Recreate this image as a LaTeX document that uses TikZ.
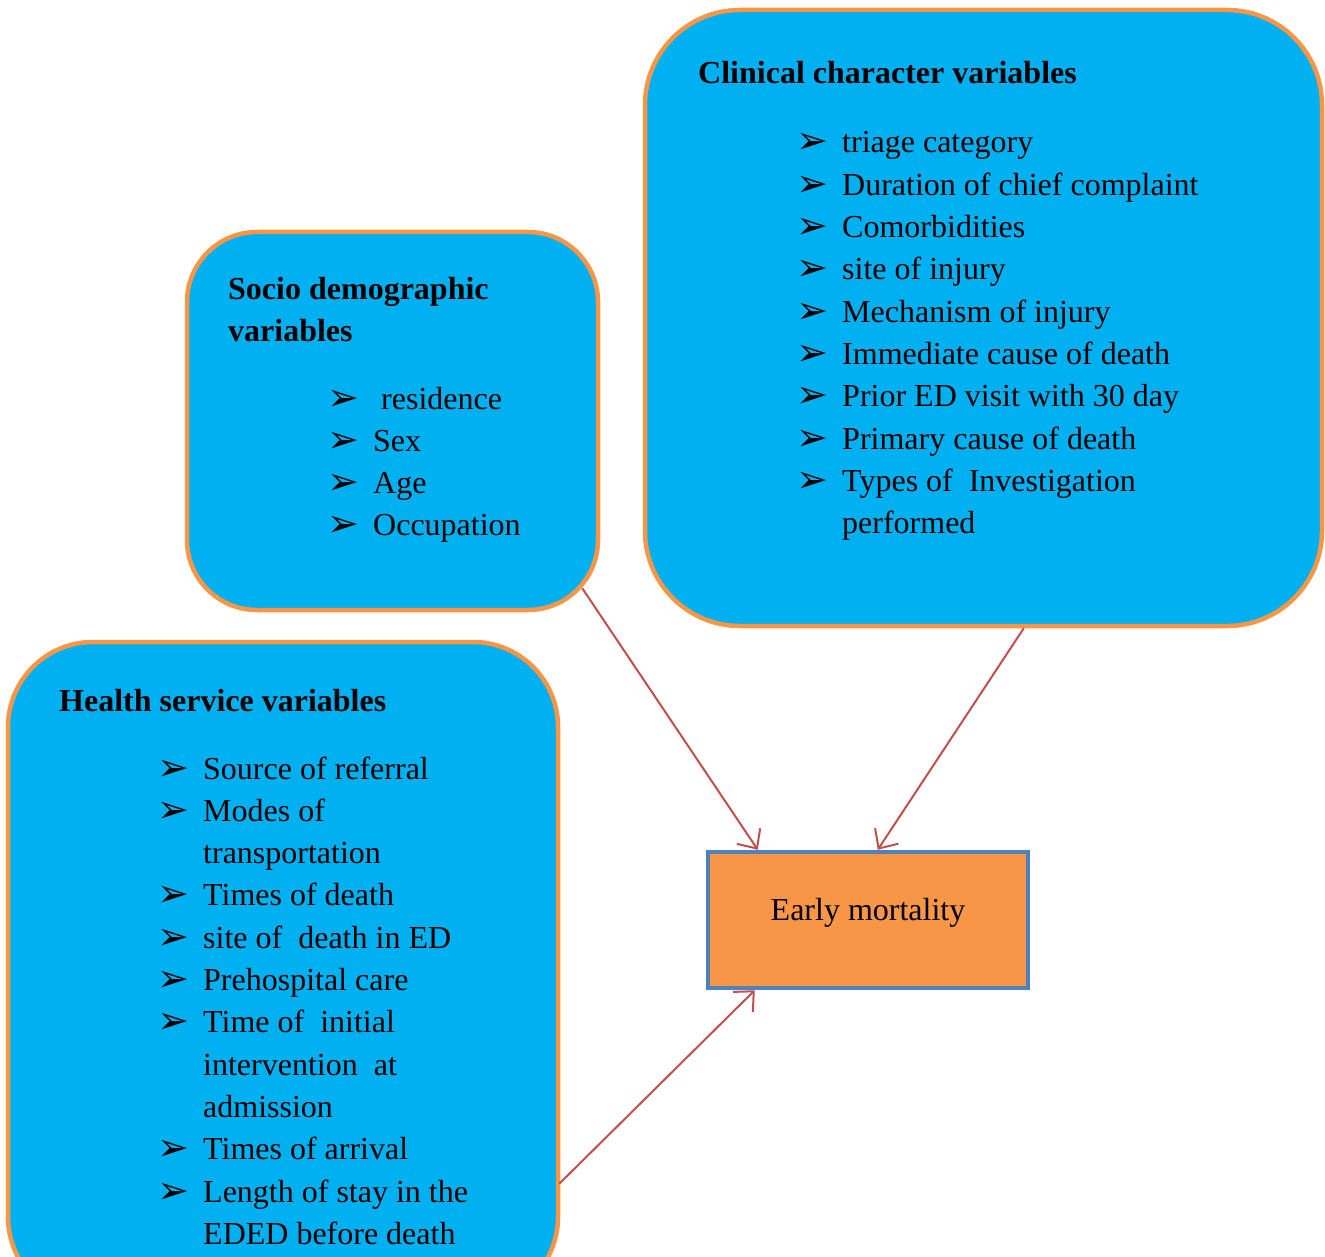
\documentclass[tikz,border=0pt]{standalone}
\usepackage{fontspec}
\setmainfont{Liberation Serif}
\newfontfamily\symfont{DejaVu Sans}
\usetikzlibrary{arrows.meta,calc}
\definecolor{boxblue}{HTML}{00B0F0}
\definecolor{boxorange}{HTML}{F79646}
\definecolor{emborder}{HTML}{4F81BD}
\definecolor{arrowred}{HTML}{C0504D}
\newcommand\bul{\makebox[46pt][l]{\raisebox{-1pt}{\symfont\fontsize{38}{38}\selectfont ➢}}}
\tikzset{
  varbox/.style={draw=boxorange, fill=boxblue, line width=4.5pt, inner sep=0pt},
  embox/.style={draw=emborder, fill=boxorange, line width=4.5pt, inner sep=0pt,
    minimum width=320pt, minimum height=136pt, font=\fontsize{32}{42.3}\selectfont},
  heading/.style={inner sep=0pt, anchor=base west, font=\fontsize{32}{42.3}\selectfont\bfseries},
  varlist/.style={inner sep=0pt, anchor=base west, font=\fontsize{32}{42.3}\selectfont},
  link/.style={draw=arrowred, line width=2pt, -{Straight Barb[length=15pt,width=28pt,line width=2pt]}}
}
\begin{document}
\begin{tikzpicture}[x=1pt,y=-1pt]
\clip (0,0) rectangle (1325,1257);
\fill[white] (0,0) rectangle (1325,1257);

% boxes
\node[varbox, rounded corners=95pt, minimum width=677pt, minimum height=616pt] (clin) at (983.5,318) {};
\node[varbox, rounded corners=70pt, minimum width=411pt, minimum height=378pt] (socio) at (392.5,421) {};
\node[varbox, rounded corners=85pt, minimum width=550pt, minimum height=660pt] (health) at (283,972) {};
\node[embox] (em) at (868,920) {\raisebox{21pt}{Early mortality}};

% clinical text
\node[heading] (clinh) at (698,84) {Clinical character variables};
\node[varlist] (clinl) at (796,153) {\begin{tabular}[t]{@{}l@{}l@{}}
\bul & triage category\\
\bul & Duration of chief complaint\\
\bul & Comorbidities\\
\bul & site of injury\\
\bul & Mechanism of injury\\
\bul & Immediate cause of death\\
\bul & Prior ED visit with 30 day\\
\bul & Primary cause of death\\
\bul & Types of\ \ Investigation\\
 & performed
\end{tabular}};

% socio text
\node[heading] (socioh) at (228,299) {\begin{tabular}[t]{@{}l@{}}Socio demographic\\ variables\end{tabular}};
\node[varlist] (sociol) at (327,409) {\begin{tabular}[t]{@{}l@{}l@{}}
\bul & \hspace{8pt}residence\\
\bul & Sex\\
\bul & Age\\
\bul & Occupation
\end{tabular}};

% health text
\node[heading] (healthh) at (59,711) {Health service variables};
\node[varlist] (healthl) at (157,779) {\begin{tabular}[t]{@{}l@{}l@{}}
\bul & Source of referral\\
\bul & Modes of\\
 & transportation\\
\bul & Times of death\\
\bul & site of\ \ death in ED\\
\bul & Prehospital care\\
\bul & Time of\ \ initial\\
 & intervention\ \ at\\
 & admission\\
\bul & Times of arrival\\
\bul & Length of stay in the\\
 & EDED before death
\end{tabular}};

% connectors
\coordinate (s1) at ($(socio.south east)+(-18,-24)$);
\coordinate (s2) at ($(clin.south west)+(381,0)$);
\coordinate (s3) at ($(health.north east)+(-1,544)$);
\draw[link] (s1) -- ($(em.north west)+(52,0)$);
\draw[link] (s2) -- ($(em.north west)+(172,0)$);
\draw[link] (s3) -- ($(em.south west)+(49,0)$);
\end{tikzpicture}
\end{document}
